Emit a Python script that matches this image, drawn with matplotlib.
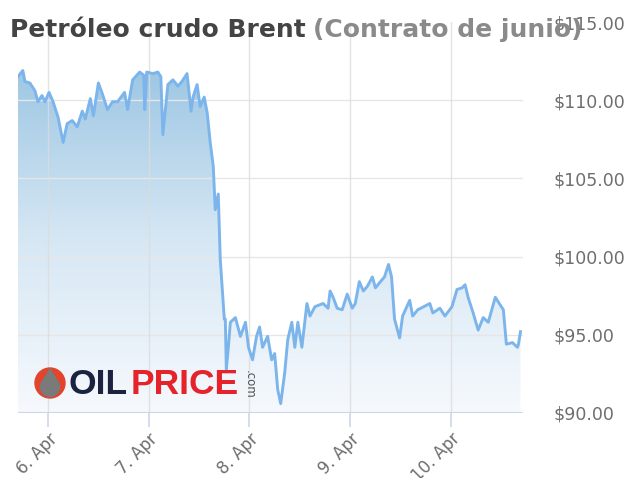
import matplotlib
matplotlib.use("Agg")
import matplotlib.pyplot as plt
import numpy as np
from matplotlib.patches import Circle, Polygon
from matplotlib.colors import LinearSegmentedColormap

# ---- data (days after 6 Apr 00:00, price in USD) ----
days = [-0.30, -0.25, -0.23, -0.18, -0.13, -0.10, -0.06, -0.03, 0.01, 0.05,
        0.10, 0.15, 0.19, 0.24, 0.29, 0.34, 0.37, 0.42, 0.45, 0.50,
        0.54, 0.59, 0.64, 0.69, 0.76, 0.79, 0.84, 0.91, 0.95, 0.96,
        0.98, 1.04, 1.09, 1.12, 1.14, 1.19, 1.24, 1.29, 1.33, 1.38,
        1.42, 1.44, 1.48, 1.51, 1.55, 1.58, 1.61, 1.64, 1.66, 1.69,
        1.71, 1.73, 1.75, 1.76, 1.77, 1.79, 1.81, 1.86, 1.91, 1.96,
        1.99, 2.03, 2.07, 2.10, 2.13, 2.18, 2.22, 2.25, 2.28, 2.31,
        2.35, 2.38, 2.42, 2.45, 2.48, 2.52, 2.57, 2.60, 2.65, 2.73,
        2.78, 2.80, 2.83, 2.87, 2.92, 2.97, 3.02, 3.05, 3.09, 3.13,
        3.17, 3.22, 3.25, 3.30, 3.34, 3.38, 3.41, 3.44, 3.49, 3.52,
        3.59, 3.62, 3.67, 3.79, 3.82, 3.89, 3.94, 4.01, 4.06, 4.11,
        4.14, 4.17, 4.22, 4.27, 4.32, 4.37, 4.44, 4.49, 4.52, 4.55,
        4.61, 4.66, 4.67, 4.69]
prices = [111.5, 111.9, 111.2, 111.1, 110.6, 109.9, 110.3, 109.9, 110.5, 109.9,
          108.9, 107.3, 108.5, 108.7, 108.3, 109.3, 108.8, 110.1, 109.0, 111.1,
          110.4, 109.4, 109.9, 109.9, 110.5, 109.4, 111.3, 111.8, 111.6, 109.4,
          111.8, 111.7, 111.8, 111.5, 107.8, 111.0, 111.3, 110.9, 111.2, 111.7,
          109.3, 110.2, 111.0, 109.6, 110.2, 109.2, 107.3, 105.8, 103.0, 104.0,
          99.8, 97.9, 96.0, 96.0, 92.8, 94.2, 95.8, 96.1, 94.9, 95.8,
          94.2, 93.4, 94.9, 95.5, 94.2, 94.9, 93.4, 93.8, 91.5, 90.6,
          92.6, 94.7, 95.8, 94.2, 95.8, 94.2, 97.0, 96.2, 96.8, 97.0,
          96.7, 97.8, 97.4, 96.7, 96.6, 97.6, 96.7, 97.0, 98.4, 97.8,
          98.1, 98.7, 98.0, 98.4, 98.7, 99.5, 98.7, 96.0, 94.8, 96.2,
          97.2, 96.2, 96.6, 97.0, 96.4, 96.7, 96.2, 96.8, 97.9, 98.0,
          98.2, 97.4, 96.4, 95.3, 96.1, 95.8, 97.4, 96.9, 96.6, 94.4,
          94.5, 94.2, 94.4, 95.2]
tick_days = [0, 1, 2, 3, 4]
tick_labels = ["6. Apr", "7. Apr", "8. Apr", "9. Apr", "10. Apr"]
y_ticks = [90, 95, 100, 105, 110, 115]
y_labels = ["$90.00", "$95.00", "$100.00", "$105.00", "$110.00", "$115.00"]

W, H = 631, 478
fig = plt.figure(figsize=(W / 100, H / 100), dpi=100)
fig.patch.set_facecolor("white")

ax = fig.add_axes([18 / W, 1 - 413 / H, (523 - 18) / W, (413 - 22) / H])
ax.set_xlim(-0.298, 4.715)
ax.set_ylim(90, 115)
ax.set_facecolor("none")

# gradient fill under the line
poly = ax.fill_between(days, prices, 90, color="none", lw=0)
cmap = LinearSegmentedColormap.from_list("g", ["#f6f9fd", "#d6e7f4", "#9cc6e3"])
grad = np.linspace(0, 1, 256).reshape(-1, 1)
im = ax.imshow(grad, extent=[-0.298, 4.715, 90, 112.2], origin="lower",
               cmap=cmap, aspect="auto", zorder=1)
path = poly.get_paths()[0]
im.set_clip_path(path, transform=ax.transData)

ax.plot(days, prices, color="#7cb5ec", lw=2.1, zorder=3, solid_joinstyle="round")

# grid
for yv in y_ticks[1:-1]:
    ax.axhline(yv, color="#e6e6e6", lw=1, zorder=2)
for xv in tick_days:
    ax.axvline(xv, color="#dcdcdc", lw=1, alpha=0.8, zorder=2)
ax.axhline(90, color="#ccd6eb", lw=1.5, zorder=4)

for s in ax.spines.values():
    s.set_visible(False)

ax.yaxis.tick_right()
ax.set_yticks(y_ticks)
ax.set_yticklabels(y_labels, fontsize=12.5, color="#6e6e6e")
ax.tick_params(axis="y", length=0, pad=22)

ax.set_xticks(tick_days)
ax.set_xticklabels(tick_labels, fontsize=12, color="#6e6e6e", rotation=45,
                   ha="right", rotation_mode="anchor")
ax.tick_params(axis="x", length=10, width=1.2, color="#ccd6eb", pad=2)

# title
title_y = 1 - 30 / H
t1 = fig.text(10 / W, title_y, "Petróleo crudo Brent", fontsize=18,
              fontweight="bold", color="#444444", va="center", ha="left")
fig.canvas.draw()
bb = t1.get_window_extent()
fig.text((bb.x1 + 7) / W, title_y, "(Contrato de junio)", fontsize=18,
         fontweight="bold", color="#8a8a8a", va="center", ha="left")

# logo overlay
lax = fig.add_axes([0, 0, 1, 1])
lax.set_xlim(0, W)
lax.set_ylim(H, 0)
lax.axis("off")
lax.add_patch(Circle((50, 383), 15, color="#e2452b"))
lax.add_patch(Circle((50, 387), 9.5, color="#7a7a7a"))
lax.add_patch(Polygon([[41.5, 383], [58.5, 383], [50, 369]], closed=True, color="#7a7a7a"))
lax.text(68, 384, "OIL", fontsize=25.5, fontweight="bold", color="#1c2340",
         family="Liberation Sans", va="center", ha="left")
lax.text(131, 384, "PRICE", fontsize=25.5, fontweight="bold", color="#e5232b",
         family="Liberation Sans", va="center", ha="left")
lax.text(249, 384, ".com", fontsize=8.5, color="#555555", rotation=-90,
         va="center", ha="center")

fig.savefig("out.png", dpi=100)
